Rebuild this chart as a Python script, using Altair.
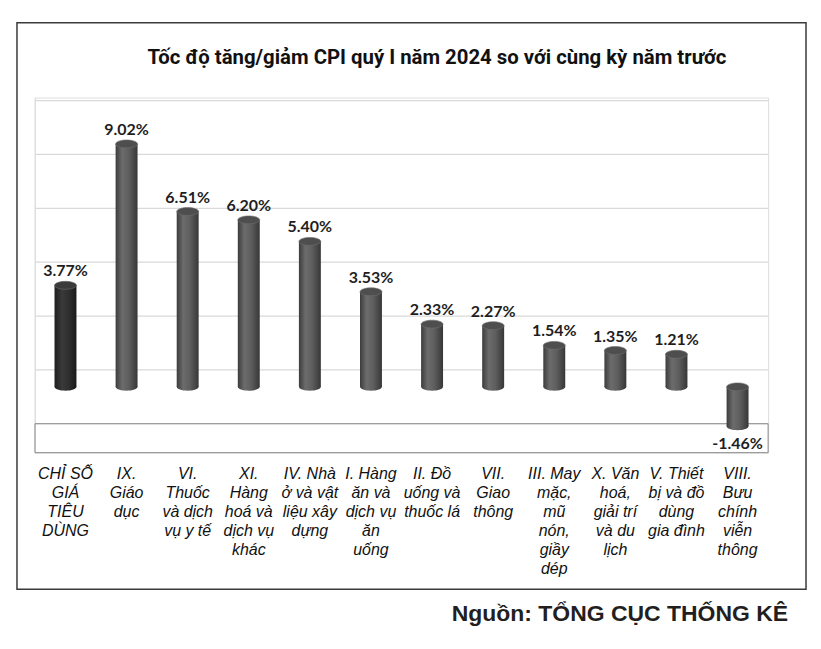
import altair as alt
import pandas as pd

categories = [
    "CHỈ SỐ\nGIÁ\nTIÊU\nDÙNG",
    "IX.\nGiáo\ndục",
    "VI.\nThuốc\nvà dịch\nvụ y tế",
    "XI.\nHàng\nhoá và\ndịch vụ\nkhác",
    "IV. Nhà\nở và vật\nliệu xây\ndựng",
    "I. Hàng\năn và\ndịch vụ\năn\nuống",
    "II. Đồ\nuống và\nthuốc lá",
    "VII.\nGiao\nthông",
    "III. May\nmặc,\nmũ\nnón,\ngiầy\ndép",
    "X. Văn\nhoá,\ngiải trí\nvà du\nlịch",
    "V. Thiết\nbị và đồ\ndùng\ngia đình",
    "VIII.\nBưu\nchính\nviễn\nthông",
]
values = [3.77, 9.02, 6.51, 6.20, 5.40, 3.53, 2.33, 2.27, 1.54, 1.35, 1.21, -1.46]
value_labels = ["3.77%", "9.02%", "6.51%", "6.20%", "5.40%", "3.53%",
                "2.33%", "2.27%", "1.54%", "1.35%", "1.21%", "-1.46%"]
is_total = [True] + [False] * 11
grid_values = [-2, 0, 2, 4, 6, 8, 10]

title_text = "Tốc độ tăng/giảm CPI quý I năm 2024 so với cùng kỳ năm trước"
source_text = "Nguồn: TỔNG CỤC THỐNG KÊ"

df = pd.DataFrame({"cat": categories, "value": values, "label": value_labels, "total": is_total})
df["top"] = df["value"].clip(lower=0)
df["bot"] = df["value"].clip(upper=0)
grid_df = pd.DataFrame({"g": grid_values})

W, H = 735, 356
BACK = -17  # back-wall offset of the 3D look

yscale = alt.Scale(domain=[-2.444, 10.741], nice=False, zero=False)
xscale = alt.Scale(paddingInner=0, paddingOuter=0)

ELLIPSE = "M -1 0 A 1 0.36 0 1 0 1 0 A 1 0.36 0 1 0 -1 0 Z"


def grad(stops):
    return alt.Gradient(
        gradient="linear", x1=0, x2=1, y1=0, y2=0,
        stops=[alt.GradientStop(color=c, offset=o) for o, c in stops],
    )


grad_total = grad([(0, "#1e1e1e"), (0.35, "#3a3a3a"), (0.7, "#2c2c2c"), (1, "#1a1a1a")])
grad_other = grad([(0, "#3c3c3c"), (0.3, "#6c6c6c"), (0.6, "#5e5e5e"), (1, "#373737")])

x_axis = alt.Axis(
    title=None, domain=False, ticks=False, grid=False, labelAngle=0,
    labelExpr="split(datum.label, '\\n')", labelFont="Liberation Sans",
    labelFontStyle="italic", labelFontSize=16, labelLineHeight=19,
    labelColor="#111111", labelPadding=13, labelBaseline="top",
    labelOverlap=False, labelLimit=200,
)

xenc = alt.X("cat:N", sort=categories, scale=xscale, axis=x_axis)

frame = alt.Chart(grid_df).mark_rect(fill=None, stroke="#3a3a3a", strokeWidth=1.5).encode(
    x=alt.value(-18), x2=alt.value(773), y=alt.value(-75), y2=alt.value(493)
).transform_filter("datum.g == 0")

grid = alt.Chart(grid_df).mark_rule(color="#d9d9d9", strokeWidth=1.2, yOffset=BACK).encode(
    y=alt.Y("g:Q", scale=yscale, axis=None), x=alt.value(0), x2=alt.value(W)
)

back_edge = alt.Chart(grid_df).mark_rule(color="#e2e2e2", strokeWidth=1).encode(
    x=alt.value(0), y=alt.value(0), y2=alt.value(327)
).transform_filter("datum.g == 0")

floor = alt.Chart(grid_df).mark_rect(fill=None, stroke="#8a8a8a", strokeWidth=1).encode(
    x=alt.value(0), x2=alt.value(W), y=alt.value(327), y2=alt.value(H)
).transform_filter("datum.g == 0")

title = alt.Chart(grid_df).mark_text(
    text=title_text, font="Roboto", fontWeight="bold", fontSize=20.4,
    color="#111111", align="center", baseline="alphabetic"
).encode(x=alt.value(403), y=alt.value(-34)).transform_filter("datum.g == 0")

base = alt.Chart(df)

def cylinder(pred, g, topcol):
    sub = base.transform_filter(pred)
    bottom = sub.mark_point(shape=ELLIPSE, size=484, filled=True, color=g, opacity=1, strokeWidth=0).encode(
        x=xenc, y=alt.Y("bot:Q", scale=yscale, axis=None)
    )
    body = sub.mark_bar(size=22, fill=g, stroke=None).encode(
        x=xenc, y=alt.Y("top:Q", scale=yscale, axis=None), y2="bot:Q"
    )
    top = sub.mark_point(shape=ELLIPSE, size=484, filled=True, color=topcol, opacity=1,
                         stroke="#6e6e6e", strokeWidth=0.6).encode(
        x=xenc, y=alt.Y("top:Q", scale=yscale, axis=None)
    )
    return bottom + body + top

cyl_total = cylinder("datum.total", grad_total, "#3a3a3a")
cyl_other = cylinder("!datum.total", grad_other, "#4e4e4e")

label_pos = base.transform_filter("datum.value >= 0").mark_text(
    font="Lato", fontWeight="bold", fontSize=16, color="#1e1e1e", baseline="bottom", dy=-6
).encode(x=xenc, y=alt.Y("top:Q", scale=yscale, axis=None), text="label:N")

label_neg = base.transform_filter("datum.value < 0").mark_text(
    font="Lato", fontWeight="bold", fontSize=16, color="#1e1e1e", baseline="top", dy=10
).encode(x=xenc, y=alt.Y("bot:Q", scale=yscale, axis=None), text="label:N")

source = alt.Chart(grid_df).mark_text(
    text=source_text, font="Liberation Sans", fontWeight="bold", fontSize=23,
    color="#231f20", align="right", baseline="middle"
).encode(x=alt.value(755), y=alt.value(518)).transform_filter("datum.g == 0")

chart = alt.layer(
    frame, grid, back_edge, floor, title, cyl_total, cyl_other, label_pos, label_neg, source
).properties(
    width=W, height=H,
    autosize=alt.AutoSizeParams(type="none"),
    padding={"left": 27, "top": 89, "right": 45, "bottom": 185},
).configure_view(stroke=None).configure(background="white")

chart.save("out.html", embed_options={"renderer": "svg", "actions": False})
